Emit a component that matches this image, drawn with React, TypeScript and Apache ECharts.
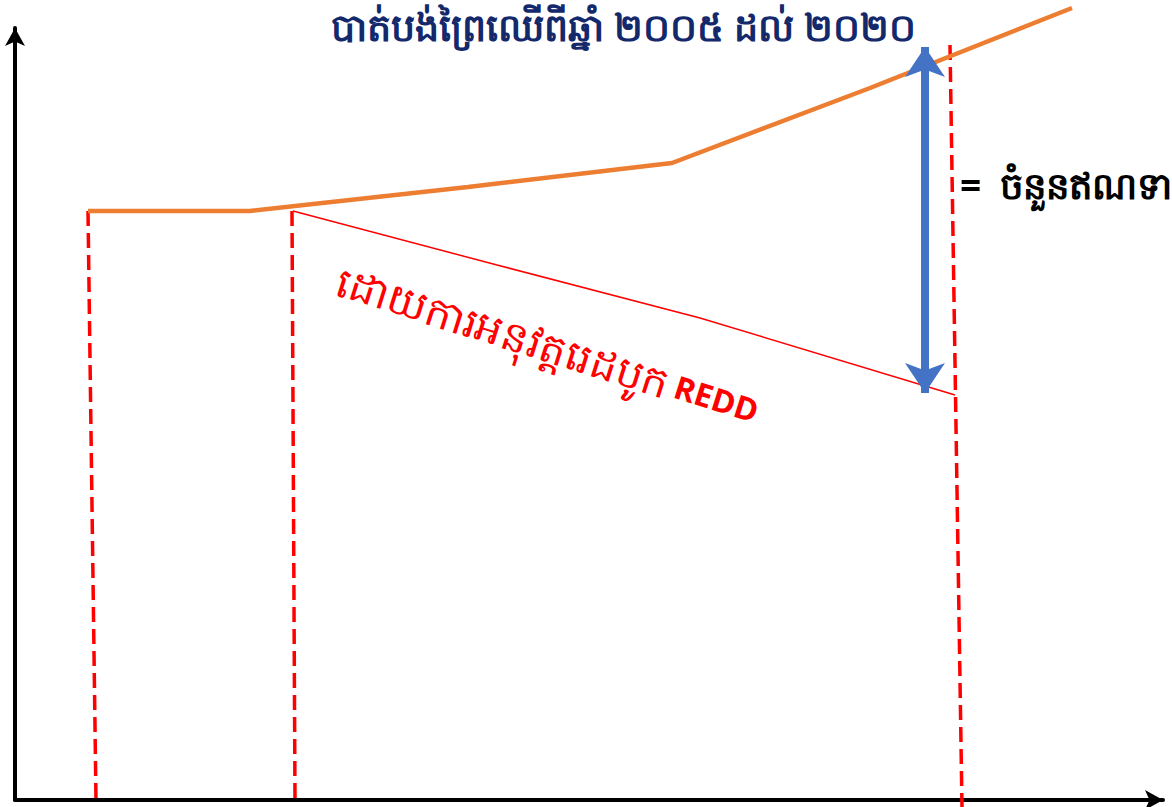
import React, { useEffect, useRef } from "react";
import * as echarts from "echarts";

// Chart-space units: x from the y-axis to the right, y up from the x-axis.
const baselineX = [73, 235, 453, 657, 855, 1057];
const baselineY = [589, 589, 613, 637, 712, 792];

const reddX = [278, 482, 685, 940];
const reddY = [589, 535, 482, 405];

const periodLines = [
  { x: [73, 81], y: [589, 0] },
  { x: [277, 280], y: [589, 0] },
  { x: [935, 947], y: [755, -7] },
];

const gapX = 910;
const gapY = [753, 407];

const titleText = "បាត់បង់ព្រៃឈើពីឆ្នាំ ២០០៥ ដល់ ២០២០";
const creditText = "=  ចំនួនឥណទាន";
const reddTextKh = "ដោយការអនុវត្តរេដបូក";
const reddTextEn = "REDD";

const KH_FONT = "'Noto Sans', 'DejaVu Sans', sans-serif";

export default function App() {
  const ref = useRef<HTMLDivElement>(null);

  useEffect(() => {
    document.body.style.margin = "0";
    if (!ref.current) return;
    const chart = echarts.init(ref.current, null, { renderer: "svg" });

    const zip = (xs: number[], ys: number[]) => xs.map((x, i) => [x, ys[i]]);

    const series: any[] = [
      {
        type: "line",
        name: "baseline",
        data: zip(baselineX, baselineY),
        showSymbol: false,
        clip: false,
        lineStyle: { color: "#ED7D31", width: 4.5 },
        z: 3,
      },
      {
        type: "line",
        name: "redd",
        data: zip(reddX, reddY),
        showSymbol: false,
        clip: false,
        lineStyle: { color: "#FF0000", width: 1.5 },
        z: 3,
        markLine: {
          silent: true,
          symbol: ["arrow", "arrow"],
          symbolSize: [30, 30],
          label: { show: false },
          lineStyle: { color: "#4472C4", width: 8, type: "solid" },
          data: [[{ coord: [gapX, gapY[0]] }, { coord: [gapX, gapY[1]] }]],
          z: 5,
        },
      },
      ...periodLines.map((p, i) => ({
        type: "line",
        name: "period" + i,
        data: zip(p.x, p.y),
        showSymbol: false,
        clip: false,
        lineStyle: { color: "#FF0000", width: 3.5, type: [15, 7] },
        z: 2,
      })),
    ];

    chart.setOption({
      animation: false,
      backgroundColor: "#ffffff",
      grid: { left: 15, right: 9, top: 28, bottom: 7 },
      xAxis: {
        type: "value",
        min: 0,
        max: 1148,
        axisLine: {
          show: true,
          symbol: ["none", "arrow"],
          symbolSize: [15, 18],
          lineStyle: { color: "#000", width: 4 },
        },
        axisTick: { show: false },
        axisLabel: { show: false },
        splitLine: { show: false },
      },
      yAxis: {
        type: "value",
        min: 0,
        max: 772,
        axisLine: {
          show: true,
          symbol: ["none", "arrow"],
          symbolSize: [15, 18],
          lineStyle: { color: "#000", width: 4 },
        },
        axisTick: { show: false },
        axisLabel: { show: false },
        splitLine: { show: false },
      },
      title: {
        text: titleText,
        left: 326,
        top: 2,
        textStyle: {
          color: "#13296B",
          fontSize: 38,
          fontWeight: "bold",
          fontFamily: KH_FONT,
        },
      },
      graphic: [
        {
          type: "text",
          x: 960,
          y: 184,
          style: {
            text: creditText,
            fill: "#000",
            font: `bold 37px ${KH_FONT}`,
            verticalAlign: "middle",
            align: "left",
          },
        },
        {
          type: "text",
          x: 548,
          y: 345,
          rotation: (-17.5 * Math.PI) / 180,
          style: {
            text: `{a|${reddTextKh}}  {b|${reddTextEn}}`,
            align: "center",
            verticalAlign: "middle",
            rich: {
              a: { fill: "#FF0000", fontSize: 42, fontFamily: KH_FONT },
              b: { fill: "#FF0000", fontSize: 32, fontWeight: "bold", fontFamily: "'Open Sans', sans-serif" },
            },
          },
        },
      ],
      series,
    });

    return () => chart.dispose();
  }, []);

  return <div ref={ref} style={{ width: 1172, height: 807 }} />;
}
